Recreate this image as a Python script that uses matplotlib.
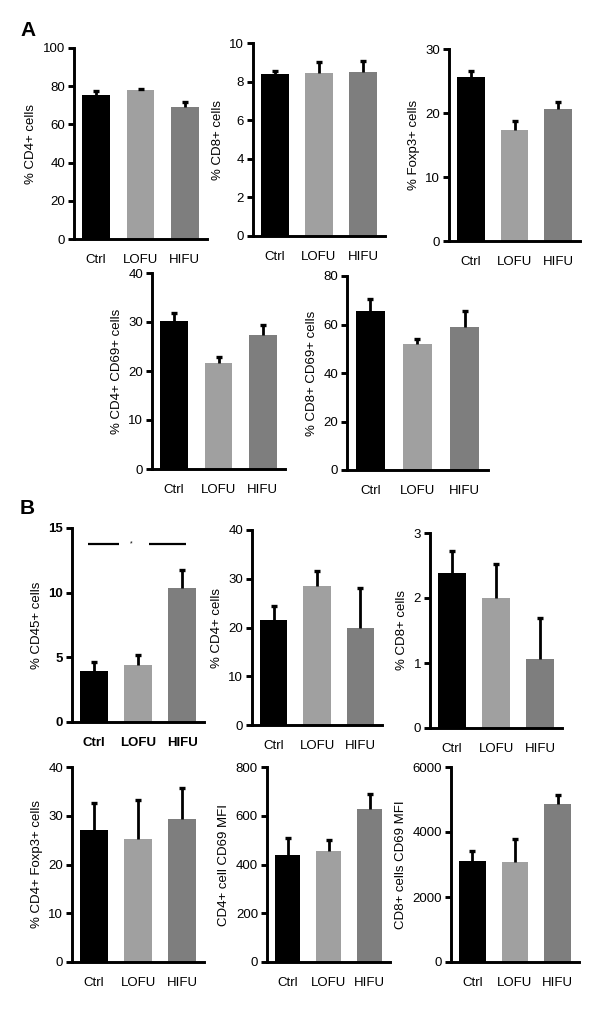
import matplotlib
matplotlib.use("Agg")
import matplotlib.pyplot as plt

plt.rcParams['font.family'] = ['Liberation Sans', 'DejaVu Sans']

groups = ["Ctrl", "LOFU", "HIFU"]
colors = ["#000000", "#a0a0a0", "#7e7e7e"]

# Panel A
a_cd4 = [75.6, 77.8, 68.9];    a_cd4_err = [1.9, 0.9, 2.7]
a_cd8 = [8.41, 8.46, 8.51];    a_cd8_err = [0.15, 0.57, 0.57]
a_foxp3 = [25.7, 17.4, 20.7];  a_foxp3_err = [0.8, 1.3, 1.0]
a_cd4cd69 = [30.2, 21.6, 27.4]; a_cd4cd69_err = [1.6, 1.3, 1.9]
a_cd8cd69 = [65.6, 51.9, 59.0]; a_cd8cd69_err = [4.8, 2.1, 6.4]

# Panel B
b_cd45 = [3.96, 4.42, 10.33];  b_cd45_err = [0.69, 0.77, 1.42]
b_cd4 = [21.5, 28.6, 20.0];    b_cd4_err = [2.9, 2.9, 8.2]
b_cd8 = [2.38, 2.00, 1.06];    b_cd8_err = [0.34, 0.52, 0.64]
b_cd4foxp3 = [27.1, 25.3, 29.4]; b_cd4foxp3_err = [5.5, 8.0, 6.3]
b_cd4mfi = [441, 457, 627];    b_cd4mfi_err = [66, 44, 63]
b_cd8mfi = [3102, 3071, 4873]; b_cd8mfi_err = [318, 717, 267]

sig_level = 13.75
sig_segments = [(-0.14, 0.57), (1.26, 2.1)]
sig_star_x = 0.85

W, H = 602, 1010
fig = plt.figure(figsize=(W / 100, H / 100), dpi=100)

def make_ax(left, right, top, bottom):
    return fig.add_axes([left / W, 1 - bottom / H, (right - left) / W, (bottom - top) / H])

def panel(box, vals, errs, ylabel, ymax, yticks, bold=False, xl=(-0.5, 2.5)):
    ax = make_ax(*box)
    x = list(range(len(groups)))
    ax.bar(x, vals, width=0.63, color=colors, zorder=2)
    eb = ax.errorbar(x, vals, yerr=[[0] * len(errs), errs], fmt='none', ecolor='black',
                     elinewidth=2.0, capsize=2.0, capthick=2.4, zorder=3)
    caps = eb[1]
    if len(caps) == 2:
        caps[0].set_visible(False)
    ax.set_xlim(*xl)
    ax.set_ylim(0, ymax)
    ax.set_yticks(yticks)
    ax.set_xticks(x)
    fw = 'bold' if bold else 'normal'
    ax.set_xticklabels(groups, fontsize=9.5, fontweight=fw)
    ax.set_yticklabels([str(t) for t in yticks], fontsize=9.5, fontweight=fw)
    for s in ['top', 'right']:
        ax.spines[s].set_visible(False)
    for s in ['left', 'bottom']:
        ax.spines[s].set_linewidth(2.1)
    ax.tick_params(axis='y', length=4.5, width=2.1, pad=2)
    ax.tick_params(axis='x', length=0, pad=11)
    ax.set_ylabel(ylabel, fontsize=9.5, labelpad=4)
    ax.spines['left'].set_bounds(0, ymax)
    return ax

panel((74, 207, 48, 239), a_cd4, a_cd4_err, "% CD4+ cells", 100, [0, 20, 40, 60, 80, 100])
panel((253, 385, 43, 236), a_cd8, a_cd8_err, "% CD8+ cells", 10, [0, 2, 4, 6, 8, 10])
panel((449, 580, 49, 241), a_foxp3, a_foxp3_err, "% Foxp3+ cells", 30, [0, 10, 20, 30])
panel((152, 285, 273, 469), a_cd4cd69, a_cd4cd69_err, "% CD4+ CD69+ cells", 40, [0, 10, 20, 30, 40])
panel((347, 488, 276, 470), a_cd8cd69, a_cd8cd69_err, "% CD8+ CD69+ cells", 80, [0, 20, 40, 60, 80])

axb1 = panel((72, 204, 528, 722), b_cd45, b_cd45_err, "% CD45+ cells", 15, [0, 5, 10, 15], bold=True)
for x0, x1 in sig_segments:
    axb1.plot([x0, x1], [sig_level, sig_level], color='black', lw=1.6, solid_capstyle='butt')
axb1.text(sig_star_x, sig_level, "*", fontsize=5, ha='center', va='center')

panel((252, 382, 530, 725), b_cd4, b_cd4_err, "% CD4+ cells", 40, [0, 10, 20, 30, 40])
panel((430, 562, 533, 728), b_cd8, b_cd8_err, "% CD8+ cells", 3, [0, 1, 2, 3])
panel((72, 204, 767, 962), b_cd4foxp3, b_cd4foxp3_err, "% CD4+ Foxp3+ cells", 40, [0, 10, 20, 30, 40])
panel((267, 390, 767, 962), b_cd4mfi, b_cd4mfi_err, "CD4+ cell CD69 MFI", 800, [0, 200, 400, 600, 800])
panel((451, 579, 767, 962), b_cd8mfi, b_cd8mfi_err, "CD8+ cells CD69 MFI", 6000, [0, 2000, 4000, 6000])

fig.text(20 / W, 1 - 30 / H, "A", fontsize=15, fontweight='bold', va='center', ha='left')
fig.text(20 / W, 1 - 508 / H, "B", fontsize=15, fontweight='bold', va='center', ha='left')

fig.savefig("out.png", dpi=100)
